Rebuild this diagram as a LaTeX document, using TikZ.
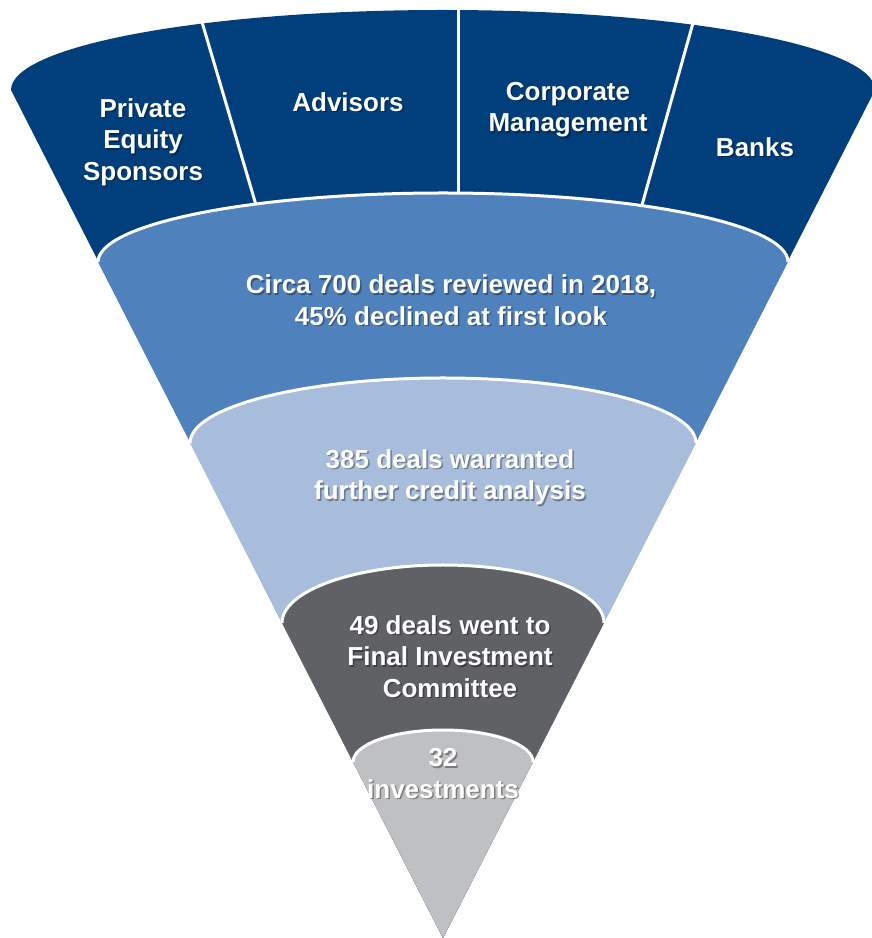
\documentclass[tikz,border=0pt]{standalone}
\usepackage{fontspec}
\setmainfont{Liberation Sans}

\definecolor{navy}{RGB}{0,62,124}
\definecolor{midblue}{RGB}{79,129,189}
\definecolor{paleblue}{RGB}{168,188,219}
\definecolor{darkgrey}{RGB}{96,97,101}
\definecolor{lightgrey}{RGB}{191,192,194}

\tikzset{
  edge/.style={draw=white, line width=3pt},
  lbl/.style={text=white, font=\bfseries\fontsize{26}{31.5}\selectfont, align=center, inner sep=0pt},
  lblshadow/.style={lbl, text=black, text opacity=0.35, xshift=1.5pt, yshift=-1.5pt},
}

% label with a soft drop shadow
\newcommand{\funnellabel}[3]{%
  \node[lblshadow] (#1-shadow) at (#2) {#3};
  \node[lbl] (#1) at (#2) {#3};
}

\begin{document}
\begin{tikzpicture}[x=1pt, y=1pt]
  \useasboundingbox (0,0) rectangle (872,938);
  \coordinate (apex) at (443,0);

  % Layers
  \fill[navy] (apex) -- (11,848) arc[start angle=180, end angle=0, x radius=432, y radius=80] -- cycle;
  \fill[midblue] (apex) -- (98,676) arc[start angle=180, end angle=0, x radius=345, y radius=69] -- cycle;
  \fill[paleblue] (apex) -- (190,495) arc[start angle=180, end angle=0, x radius=253, y radius=65] -- cycle;
  \fill[darkgrey] (apex) -- (282,315) arc[start angle=180, end angle=0, x radius=161, y radius=58] -- cycle;
  \fill[lightgrey] (apex) -- (353,176) arc[start angle=180, end angle=0, x radius=90, y radius=32] -- cycle;

  % White rims between layers
  \draw[edge] (98,676) arc[start angle=180, end angle=0, x radius=345, y radius=69];
  \draw[edge] (190,495) arc[start angle=180, end angle=0, x radius=253, y radius=65];
  \draw[edge] (282,315) arc[start angle=180, end angle=0, x radius=161, y radius=58];
  \draw[edge] (353,176) arc[start angle=180, end angle=0, x radius=90, y radius=32];

  % Dividers in the source band
  \draw[edge] (202,916) -- (256,733);
  \draw[edge] (458,930) -- (458,745);
  \draw[edge] (693,915) -- (642,733);

  % Labels
  \funnellabel{pes}{143,796}{Private\\Equity\\Sponsors}
  \funnellabel{adv}{348,836}{Advisors}
  \funnellabel{corp}{568,828.5}{Corporate\\Management}
  \funnellabel{banks}{755,791}{Banks}
  \funnellabel{review}{451,638}{Circa 700 deals reviewed in 2018,\\45\% declined at first look}
  \funnellabel{credit}{450,460.5}{385 deals warranted\\further credit analysis}
  \funnellabel{ic}{450,281.5}{49 deals went to\\Final Investment\\Committee}
  \funnellabel{invest}{443,164.5}{32\\investments}
\end{tikzpicture}
\end{document}
